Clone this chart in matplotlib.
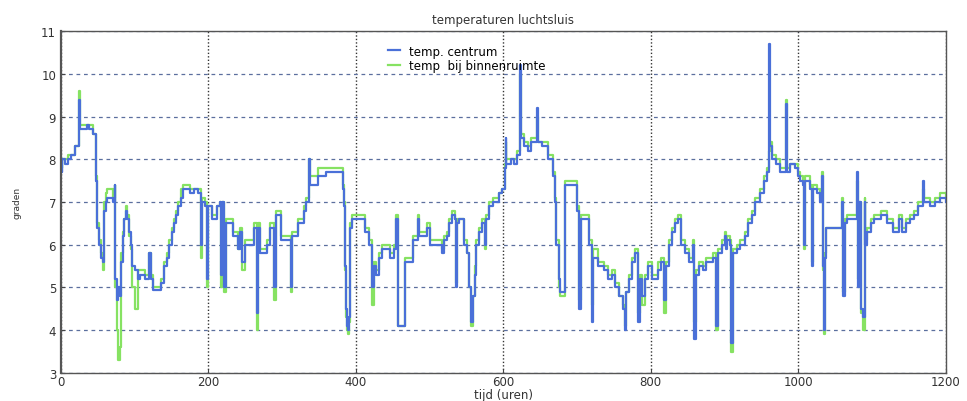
import matplotlib
matplotlib.use('Agg')
import matplotlib.pyplot as plt

# breakpoints (uur) where a new reading starts; both sensors share them
uren = [
    0, 1, 2, 6, 10, 14, 19, 25, 26, 35,
    38, 44, 48, 49, 52, 54, 57, 59, 61, 63,
    70, 73, 74, 76, 78, 80, 82, 84, 86, 88,
    90, 93, 95, 97, 100, 104, 107, 114, 120, 122,
    125, 136, 140, 144, 147, 150, 153, 156, 159, 163,
    166, 175, 180, 186, 190, 191, 195, 198, 199, 205,
    212, 216, 217, 219, 221, 224, 233, 240, 243, 245,
    250, 262, 266, 267, 270, 280, 284, 289, 292, 298,
    312, 314, 322, 329, 333, 337, 338, 348, 360, 382,
    384, 385, 386, 388, 390, 391, 392, 395, 413, 418,
    422, 424, 427, 432, 435, 446, 452, 455, 457, 466,
    478, 484, 486, 497, 500, 517, 520, 523, 527, 530,
    534, 536, 537, 540, 547, 551, 554, 556, 559, 561,
    563, 567, 571, 575, 577, 580, 586, 594, 598, 602,
    603, 604, 610, 615, 618, 623, 624, 628, 634, 638,
    646, 647, 652, 660, 668, 670, 672, 675, 677, 684,
    700, 703, 705, 716, 720, 722, 728, 736, 742, 747,
    752, 757, 762, 765, 767, 771, 775, 779, 783, 785,
    788, 792, 796, 802, 810, 814, 818, 820, 825, 829,
    833, 837, 841, 846, 852, 857, 859, 861, 866, 871,
    875, 885, 889, 891, 896, 900, 902, 904, 907, 909,
    912, 917, 921, 928, 932, 937, 941, 948, 953, 958,
    960, 961, 965, 970, 975, 983, 984, 985, 989, 995,
    999, 1002, 1006, 1008, 1009, 1016, 1018, 1020, 1025, 1029,
    1032, 1034, 1035, 1036, 1038, 1059, 1061, 1063, 1066, 1080,
    1081, 1083, 1085, 1088, 1090, 1091, 1093, 1098, 1103, 1112,
    1120, 1128, 1136, 1141, 1146, 1152, 1157, 1163, 1169, 1171,
    1178, 1185, 1192, 1200,
]

temp_centrum = [
    8.0, 7.7, 8.0, 7.9, 8.0, 8.1, 8.3, 9.4, 8.7, 8.8,
    8.7, 8.6, 7.5, 6.4, 6.0, 5.7, 5.6, 6.8, 7.0, 7.1,
    7.0, 7.4, 5.2, 4.7, 5.0, 4.8, 5.6, 6.2, 6.6, 6.8,
    6.6, 6.3, 6.0, 5.5, 5.4, 5.2, 5.3, 5.2, 5.8, 5.2,
    4.95, 5.1, 5.5, 5.7, 6.0, 6.3, 6.5, 6.7, 6.9, 7.1,
    7.3, 7.2, 7.3, 7.2, 6.0, 7.0, 6.9, 5.2, 6.9, 6.6,
    6.9, 7.0, 5.3, 7.0, 5.0, 6.5, 6.2, 5.9, 6.3, 5.6,
    6.0, 6.4, 4.4, 6.4, 5.8, 6.0, 6.4, 5.0, 6.7, 6.1,
    5.0, 6.2, 6.5, 6.8, 7.0, 8.0, 7.4, 7.6, 7.7, 7.3,
    6.9, 5.5, 4.5, 4.1, 4.0, 4.3, 6.4, 6.6, 6.3, 6.0,
    5.0, 5.5, 5.3, 5.7, 5.9, 5.7, 5.9, 6.6, 4.1, 5.6,
    6.1, 6.6, 6.2, 6.4, 6.0, 5.8, 6.1, 6.2, 6.5, 6.7,
    6.6, 5.0, 6.5, 6.6, 6.0, 5.8, 5.0, 4.2, 4.8, 5.3,
    6.0, 6.3, 6.5, 6.0, 6.6, 6.9, 7.0, 7.2, 7.3, 7.8,
    8.5, 7.9, 8.0, 7.9, 8.1, 10.2, 8.5, 8.3, 8.2, 8.4,
    9.2, 8.4, 8.3, 8.0, 7.6, 7.0, 6.0, 5.2, 4.9, 7.4,
    6.8, 4.5, 6.6, 6.0, 4.2, 5.7, 5.5, 5.4, 5.2, 5.3,
    5.0, 4.8, 4.5, 4.0, 4.9, 5.2, 5.6, 5.8, 4.2, 5.2,
    4.8, 5.2, 5.5, 5.2, 5.4, 5.6, 4.7, 5.5, 6.0, 6.3,
    6.5, 6.6, 6.0, 5.8, 5.6, 6.0, 3.8, 5.3, 5.5, 5.4,
    5.6, 5.7, 4.1, 5.8, 6.0, 6.2, 5.9, 6.1, 6.0, 3.7,
    5.8, 5.9, 6.0, 6.2, 6.5, 6.7, 7.0, 7.2, 7.5, 7.7,
    10.7, 8.3, 8.0, 7.9, 7.7, 7.8, 9.3, 7.7, 7.9, 7.8,
    7.6, 7.5, 7.4, 6.0, 7.5, 7.3, 5.5, 7.3, 7.2, 7.0,
    7.6, 5.5, 4.0, 5.7, 6.4, 7.0, 4.8, 6.5, 6.6, 7.7,
    5.0, 7.0, 4.5, 4.3, 7.0, 6.0, 6.3, 6.5, 6.6, 6.7,
    6.5, 6.3, 6.6, 6.3, 6.5, 6.6, 6.7, 6.9, 7.5, 7.0,
    6.9, 7.0, 7.1, 7.0,
]

temp_binnen = [
    8.0, 7.8, 8.0, 8.0, 8.1, 8.1, 8.3, 9.6, 8.8, 8.8,
    8.8, 8.6, 7.6, 6.5, 6.1, 5.8, 5.4, 7.0, 7.2, 7.3,
    7.1, 7.4, 5.0, 4.0, 3.3, 3.6, 5.8, 6.3, 6.6, 6.9,
    6.7, 6.2, 5.9, 5.0, 4.5, 5.4, 5.4, 5.3, 5.8, 5.3,
    5.0, 5.2, 5.6, 5.8, 6.1, 6.4, 6.6, 6.8, 7.0, 7.3,
    7.4, 7.3, 7.3, 7.3, 5.7, 7.1, 7.0, 5.0, 6.9, 6.7,
    6.9, 7.0, 5.0, 7.0, 4.9, 6.6, 6.3, 5.9, 6.4, 5.4,
    6.1, 6.5, 4.0, 6.5, 5.9, 6.1, 6.5, 4.7, 6.8, 6.2,
    4.9, 6.3, 6.6, 6.9, 7.1, 8.0, 7.6, 7.8, 7.8, 7.4,
    7.0, 5.4, 4.3, 4.0, 3.9, 4.2, 6.5, 6.7, 6.4, 6.1,
    4.6, 5.6, 5.4, 5.8, 6.0, 5.8, 6.0, 6.7, 4.1, 5.7,
    6.2, 6.7, 6.3, 6.5, 6.1, 5.9, 6.2, 6.3, 6.6, 6.8,
    6.6, 5.1, 6.6, 6.6, 6.1, 5.8, 5.0, 4.1, 4.8, 5.5,
    6.1, 6.4, 6.6, 5.9, 6.7, 7.0, 7.1, 7.2, 7.3, 7.9,
    8.4, 8.0, 8.0, 8.0, 8.2, 10.0, 8.6, 8.4, 8.3, 8.5,
    9.0, 8.4, 8.4, 8.1, 7.7, 7.1, 6.1, 5.0, 4.8, 7.5,
    6.9, 4.7, 6.7, 6.1, 4.6, 5.9, 5.6, 5.5, 5.3, 5.4,
    5.1, 4.8, 4.6, 4.1, 4.9, 5.3, 5.7, 5.9, 4.4, 5.3,
    4.6, 5.3, 5.6, 5.3, 5.6, 5.7, 4.4, 5.6, 6.1, 6.4,
    6.6, 6.7, 6.1, 5.9, 5.7, 6.1, 4.2, 5.4, 5.6, 5.5,
    5.7, 5.8, 4.0, 5.9, 6.1, 6.3, 6.0, 6.2, 6.1, 3.5,
    5.9, 6.0, 6.1, 6.3, 6.6, 6.8, 7.1, 7.3, 7.6, 7.8,
    8.2, 8.4, 8.1, 8.0, 7.8, 7.9, 9.4, 7.8, 7.9, 7.9,
    7.7, 7.6, 7.5, 5.9, 7.6, 7.4, 5.6, 7.4, 7.3, 7.1,
    7.7, 5.4, 3.9, 5.8, 6.4, 7.1, 4.9, 6.6, 6.7, 7.5,
    5.2, 7.0, 4.4, 4.0, 7.1, 6.1, 6.4, 6.6, 6.7, 6.8,
    6.6, 6.4, 6.7, 6.4, 6.6, 6.7, 6.8, 7.0, 7.3, 7.1,
    7.0, 7.1, 7.2, 7.1,
]

x_ticks = [0, 200, 400, 600, 800, 1000, 1200]
y_ticks = [3, 4, 5, 6, 7, 8, 9, 10, 11]

plt.rcParams['font.family'] = ['DejaVu Sans']

fig = plt.figure(figsize=(9.67, 4.02), dpi=100)
ax = fig.add_axes([0.063, 0.07, 0.915, 0.85])

# green first so the blue line sits on top, like in the original
l_bin, = ax.step(uren, temp_binnen, where='post', color='#86e262', lw=1.6)
l_cen, = ax.step(uren, temp_centrum, where='post', color='#4a70d8', lw=1.6)

ax.set_xlim(0, 1200)
ax.set_ylim(3, 11)
ax.set_xticks(x_ticks)
ax.set_yticks(y_ticks)

# matlab style grid: dashed rows, dotted columns
ax.yaxis.grid(True, ls=(0, (3, 3)), color='#5b6f9e', lw=0.9)
ax.xaxis.grid(True, ls=(0, (1, 1.5)), color='#333333', lw=1.0)
ax.set_axisbelow(True)

ax.tick_params(direction='in', length=3, colors='#444444', labelsize=8.5,
               labelcolor='#333333')
ax.tick_params(axis='x', pad=1.5)
for s in ax.spines.values():
    s.set_color('#555555')
    s.set_linewidth(1.0)
ax.spines['left'].set_linewidth(1.6)

ax.set_title('temperaturen luchtsluis', fontsize=8.5, color='#333333', pad=6)
ax.set_xlabel('tijd (uren)', fontsize=8.5, color='#333333', labelpad=0)
ax.set_ylabel('graden', fontsize=6.5, color='#333333', labelpad=14)

ax.legend([l_cen, l_bin], ['temp. centrum', 'temp  bij binnenruimte'],
          loc='upper left', bbox_to_anchor=(0.36, 0.985), frameon=False,
          fontsize=8.5, handlelength=1.0, handletextpad=0.8,
          labelspacing=0.1, borderpad=0.2)

fig.savefig('out.png', dpi=100)
